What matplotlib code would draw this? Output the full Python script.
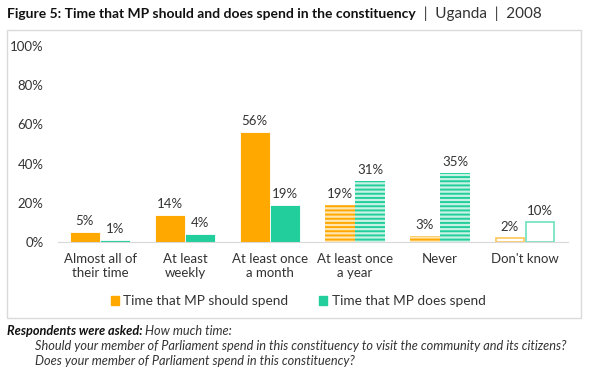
"""Time that MP should and does spend in the constituency (Uganda, 2008)."""

import matplotlib

matplotlib.use("Agg")
import matplotlib.pyplot as plt
import numpy as np
from matplotlib.patches import Rectangle

categories = [
    "Almost all of\ntheir time",
    "At least\nweekly",
    "At least once\na month",
    "At least once\na year",
    "Never",
    "Don't know",
]
should_spend = [5, 14, 56, 19, 3, 2]
does_spend = [1, 4, 19, 31, 35, 10]
series_names = ["Time that MP should spend", "Time that MP does spend"]
y_ticks = [0, 20, 40, 60, 80, 100]

# bar styles per category: solid, striped, outline
styles = ["solid", "solid", "solid", "striped", "striped", "outline"]

ORANGE = "#FFA800"
TEAL = "#22CE9C"
LIGHT = {ORANGE: "#FFE6B0", TEAL: "#C8F2E4"}

plt.rcParams["font.family"] = ["Lato", "DejaVu Sans"]
plt.rcParams["hatch.linewidth"] = 1.4

W, H = 602, 376
fig = plt.figure(figsize=(W / 100, H / 100), dpi=100)

# chart frame
fig.patches.append(
    Rectangle(
        (7 / W, 1 - 318 / H),
        (581 - 7) / W,
        (318 - 30) / H,
        transform=fig.transFigure,
        facecolor="white",
        edgecolor="#DADADA",
        linewidth=1.0,
        zorder=-1,
    )
)

ax = fig.add_axes([57.5 / W, 1 - 242 / H, 510 / W, 196 / H], zorder=2)
ax.set_facecolor("none")

x = np.arange(len(categories))
bw = 0.35


def draw(values, offset, color):
    for xi, v, st in zip(x, values, styles):
        xpos = xi + offset
        if st == "solid":
            ax.bar(xpos, v, bw, color=color, edgecolor="white", linewidth=0.6)
        elif st == "striped":
            ax.bar(
                xpos, v, bw, facecolor=LIGHT[color], edgecolor=color,
                hatch="----", linewidth=0,
            )
        else:
            ax.bar(
                xpos, v, bw * 0.94, facecolor="white", edgecolor=color,
                alpha=0.6, linewidth=1.3,
            )
        ax.text(xpos, v + 2.5, f"{v}%", ha="center", va="bottom",
                fontsize=9.5, color="#333333")


draw(should_spend, -bw / 2 - 0.005, ORANGE)
draw(does_spend, bw / 2 + 0.005, TEAL)

ax.set_xlim(-0.5, len(categories) - 0.5)
ax.set_ylim(0, 100)
ax.set_yticks(y_ticks)
ax.set_yticklabels([f"{t}%" for t in y_ticks])
ax.set_xticks(x)
ax.set_xticklabels(categories)
ax.tick_params(axis="both", length=0, labelsize=9.5, colors="#333333")
ax.tick_params(axis="y", pad=10)
ax.tick_params(axis="x", pad=8)
for s in ["top", "right", "left"]:
    ax.spines[s].set_visible(False)
ax.spines["bottom"].set_color("#D9D9D9")

handles = [
    Rectangle((0, 0), 1, 1, color=ORANGE),
    Rectangle((0, 0), 1, 1, color=TEAL),
]
fig.legend(
    handles, series_names, loc="center", bbox_to_anchor=(298 / W, 1 - 301 / H),
    ncol=2, frameon=False, fontsize=9.8, handlelength=0.6, handleheight=0.6,
    handletextpad=0.3, columnspacing=2.3, labelcolor="#333333",
)


def text_after(prev, txt, **kw):
    # place a text right after a previous one on the same line
    fig.canvas.draw()
    bb = prev.get_window_extent()
    x0 = bb.x1 / fig.bbox.width
    return fig.text(x0, prev.get_position()[1], txt, va="center", **kw)


title = fig.text(7 / W, 1 - 14 / H,
                 "Figure 5: Time that MP should and does spend in the constituency",
                 fontsize=10, fontweight="bold", va="center", color="#111111")
text_after(title, "  |  Uganda  |  2008", fontsize=11, color="#333333")

note = fig.text(7 / W, 1 - 331 / H, "Respondents were asked:", fontsize=9.2,
                fontweight="bold", style="italic", va="center", color="#111111")
text_after(note, " How much time:", fontsize=9.2, style="italic", color="#333333")
fig.text(35 / W, 1 - 346 / H,
         "Should your member of Parliament spend in this constituency to visit the community and its citizens?",
         fontsize=9.2, style="italic", va="center", color="#333333")
fig.text(35 / W, 1 - 361 / H,
         "Does your member of Parliament spend in this constituency?",
         fontsize=9.2, style="italic", va="center", color="#333333")

fig.savefig("out.png", dpi=100)
